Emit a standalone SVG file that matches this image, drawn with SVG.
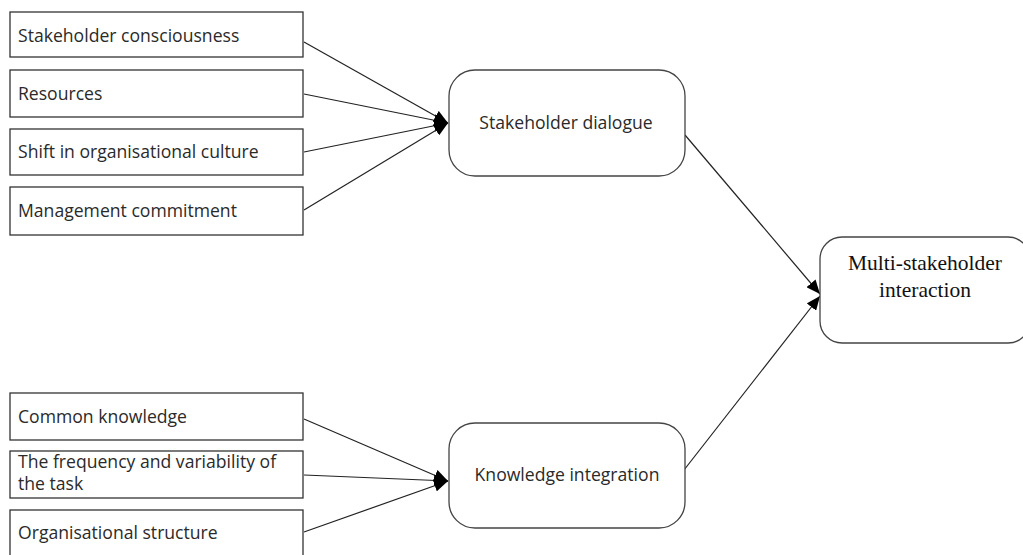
<svg xmlns="http://www.w3.org/2000/svg" width="1023" height="555" viewBox="0 0 1023 555">
<style>
.box{fill:#fff;stroke:#333;stroke-width:1.3}
.rbox{fill:#fff;stroke:#444;stroke-width:1.3}
.t{font-family:"Open Sans","Liberation Sans",sans-serif;font-size:17.6px;fill:#2a2a2a}
.c{text-anchor:middle}
.s{font-family:"Liberation Serif",serif;font-size:21.5px;fill:#111;text-anchor:middle}
.ln{stroke:#222;stroke-width:1.2;fill:none;marker-end:url(#ah)}
</style>
<defs>
<marker id="ah" viewBox="0 0 14 12" refX="14" refY="6" markerWidth="14" markerHeight="12" markerUnits="userSpaceOnUse" orient="auto">
<path d="M0,0 L14,6 L0,12 z" fill="#000"/>
</marker>
</defs>
<rect width="1023" height="555" fill="#fff"/>
<g id="connectors">
<line class="ln" x1="304" y1="42" x2="448" y2="123"/>
<line class="ln" x1="304" y1="94" x2="448" y2="123"/>
<line class="ln" x1="304" y1="152" x2="448" y2="123"/>
<line class="ln" x1="304" y1="210" x2="448" y2="123"/>
<line class="ln" x1="304" y1="419" x2="448" y2="481"/>
<line class="ln" x1="304" y1="475" x2="448" y2="481"/>
<line class="ln" x1="304" y1="532" x2="448" y2="481"/>
<line class="ln" x1="685" y1="135" x2="820" y2="294"/>
<line class="ln" x1="684" y1="470" x2="820" y2="296"/>
</g>
<g id="n-consciousness"><rect class="box" x="10" y="12" width="293" height="45"/><text class="t" x="18" y="42">Stakeholder consciousness</text></g>
<g id="n-resources"><rect class="box" x="10" y="70" width="293" height="47"/><text class="t" x="18" y="100">Resources</text></g>
<g id="n-culture"><rect class="box" x="10" y="129" width="293" height="46"/><text class="t" x="18" y="158">Shift in organisational culture</text></g>
<g id="n-commitment"><rect class="box" x="10" y="187" width="293" height="48"/><text class="t" x="18" y="217">Management commitment</text></g>
<g id="n-common"><rect class="box" x="10" y="393" width="293" height="47"/><text class="t" x="18" y="423">Common knowledge</text></g>
<g id="n-frequency"><rect class="box" x="10" y="451" width="293" height="47"/><text class="t" x="18" y="468">The frequency and variability of</text><text class="t" x="18" y="490">the task</text></g>
<g id="n-structure"><rect class="box" x="10" y="510" width="293" height="60"/><text class="t" x="18" y="539">Organisational structure</text></g>
<g id="n-dialogue"><rect class="rbox" x="449" y="70" width="236" height="106" rx="26"/><text class="t c" x="566" y="129">Stakeholder dialogue</text></g>
<g id="n-integration"><rect class="rbox" x="449" y="423" width="236" height="105" rx="26"/><text class="t c" x="567" y="481">Knowledge integration</text></g>
<g id="n-multi"><rect class="rbox" x="820" y="237" width="210" height="106" rx="22"/><text class="s" x="925" y="270">Multi-stakeholder</text><text class="s" x="925" y="297">interaction</text></g>
</svg>
